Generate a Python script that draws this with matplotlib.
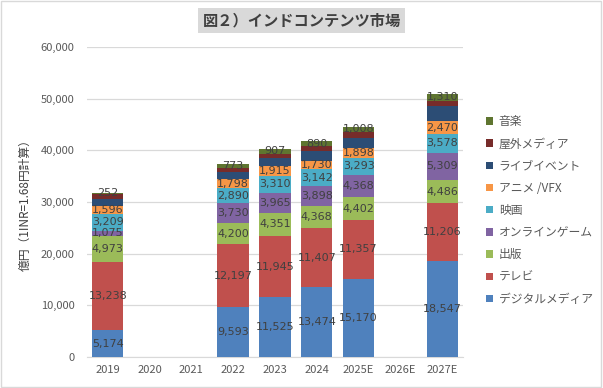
import matplotlib
matplotlib.use("Agg")
import matplotlib.pyplot as plt
from matplotlib.patches import Rectangle
import numpy as np

plt.rcParams['font.family'] = ['Noto Sans CJK JP', 'DejaVu Sans']

years = ["2019", "2020", "2021", "2022", "2023", "2024", "2025E", "2026E", "2027E"]

digital = [5174, 0, 0, 9593, 11525, 13474, 15170, 0, 18547]
tv = [13238, 0, 0, 12197, 11945, 11407, 11357, 0, 11206]
publishing = [4973, 0, 0, 4200, 4351, 4368, 4402, 0, 4486]
online_games = [1075, 0, 0, 3730, 3965, 3898, 4368, 0, 5309]
film = [3209, 0, 0, 2890, 3310, 3142, 3293, 0, 3578]
anime_vfx = [1596, 0, 0, 1798, 1915, 1730, 1898, 0, 2470]
live_events = [1400, 0, 0, 1300, 1450, 1800, 1940, 0, 2900]
outdoor = [850, 0, 0, 780, 870, 1000, 1160, 0, 1100]
music = [252, 0, 0, 773, 907, 890, 1008, 0, 1310]

series_names = ["デジタルメディア", "テレビ", "出版", "オンラインゲーム", "映画",
                "アニメ /VFX", "ライブイベント", "屋外メディア", "音楽"]
series_values = [digital, tv, publishing, online_games, film, anime_vfx,
                 live_events, outdoor, music]
colors = ["#4F81BD", "#C0504D", "#9BBB59", "#8064A2", "#4BACC6",
          "#F79646", "#2C4D75", "#772C2A", "#5F7530"]
show_labels = [True, True, True, True, True, True, False, False, True]

fig = plt.figure(figsize=(6.03, 3.88), dpi=100)
ax = fig.add_axes([0.144, 0.080, 0.624, 0.799])

x = np.arange(len(years))
bottom = np.zeros(len(years))
handles = []
for name, vals, col, lab in zip(series_names, series_values, colors, show_labels):
    v = np.array(vals, dtype=float)
    b = ax.bar(x, v, 0.75, bottom=bottom, color=col, label=name, zorder=3)
    handles.append(b)
    if lab:
        for xi, vi, bi in zip(x, v, bottom):
            if vi > 0:
                ax.text(xi, bi + vi / 2, f"{int(vi):,}", ha='center', va='center',
                        fontsize=8, color='#404040', family='DejaVu Sans', zorder=4)
    bottom += v

ax.set_xlim(-0.5, len(years) - 0.5)
ax.set_ylim(0, 60000)
ax.set_yticks(np.arange(0, 60001, 10000))
ax.set_yticklabels([f"{t:,}" for t in range(0, 60001, 10000)])
ax.set_xticks(x)
ax.set_xticklabels(years)
ax.tick_params(axis='both', length=0, labelsize=8, labelcolor='#595959')
ax.tick_params(axis='y', pad=9)
ax.tick_params(axis='x', pad=6)
ax.yaxis.grid(True, color='#D9D9D9', linewidth=0.9, zorder=0)
for s in ['top', 'right', 'left']:
    ax.spines[s].set_visible(False)
ax.spines['bottom'].set_color('#D9D9D9')
ax.set_ylabel("億円（1INR=1.68円計算）", fontsize=8.5, color='#404040', labelpad=6)

leg = fig.legend(handles[::-1], series_names[::-1], loc='upper left',
                 bbox_to_anchor=(0.788, 0.731), frameon=False, fontsize=8.5,
                 handlelength=0.6, handleheight=0.6, handletextpad=0.5,
                 labelspacing=0.78, labelcolor='#595959')

fig.text(0.5, 0.948, "図２）インドコンテンツ市場", ha='center', va='center',
         fontsize=11, color='#404040', fontweight='bold',
         bbox=dict(boxstyle='square,pad=0.3', facecolor='#D9D9D9', edgecolor='none'))

fig.patches.append(Rectangle((0.002, 0.003), 0.995, 0.994, transform=fig.transFigure,
                             fill=False, edgecolor='#D9D9D9', linewidth=1))

fig.savefig("out.png", dpi=100)
